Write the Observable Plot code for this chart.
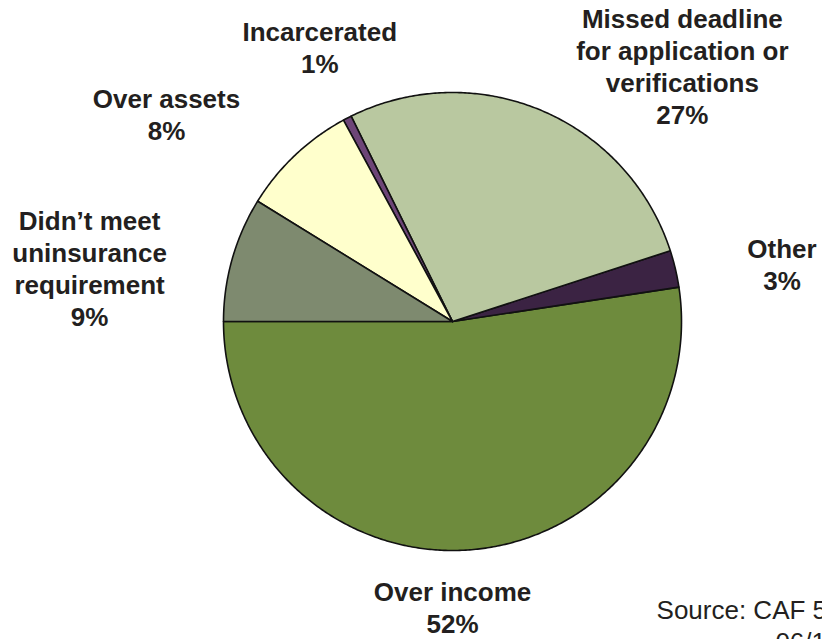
<!DOCTYPE html>
<html><head><meta charset="utf-8">
<script src="https://cdn.jsdelivr.net/npm/d3@7"></script>
<script src="https://cdn.jsdelivr.net/npm/@observablehq/plot@0.6"></script>
<style>html,body{margin:0;padding:0;overflow:hidden;background:#fff}</style>
</head><body><div id="chart"></div>
<script>
// ---- data ----
const categories = [
  "Over income",
  "Other",
  "Missed deadline\nfor application or\nverifications",
  "Incarcerated",
  "Over assets",
  "Didn’t meet\nuninsurance\nrequirement"
];
const shares = [52.4, 2.6, 27.3, 0.6, 8.3, 8.8];
const colors = ["#6e8b3d", "#3b2343", "#b9c8a0", "#6d4577", "#ffffcc", "#7e8a6f"];
const sourceLines = ["Source: CAF 51", "06/10"];

// ---- layout (label placement, polar around pie centre; radius 1 = pie edge) ----
const labelAngle = [270, 10, 48.1, 115.8, 144, 171.6];
const labelRadius = [1.247, 1.461, 1.503, 1.332, 1.544, 1.602];
const sourceX = [0.891, 1.41];
const sourceY = [-1.262, -1.402];

const rad = Math.PI / 180;
const total = d3.sum(shares);
let cum = 0;
const slices = categories.map((c, i) => {
  const a0 = 180 + (cum / total) * 360;
  cum += shares[i];
  const a1 = 180 + (cum / total) * 360;
  return {cat: c, share: shares[i], color: colors[i], a0, a1};
});
const outline = slices.flatMap((s) => {
  const n = Math.max(2, Math.ceil((s.a1 - s.a0) / 0.5));
  const pts = [{cat: s.cat, color: s.color, x: 0, y: 0}];
  for (let k = 0; k <= n; k++) {
    const a = (s.a0 + ((s.a1 - s.a0) * k) / n) * rad;
    pts.push({cat: s.cat, color: s.color, x: Math.cos(a), y: Math.sin(a)});
  }
  pts.push({cat: s.cat, color: s.color, x: 0, y: 0});
  return pts;
});
const labels = slices.map((s, i) => ({
  text: `${s.cat}\n${Math.round(s.share)}%`,
  x: labelRadius[i] * Math.cos(labelAngle[i] * rad),
  y: labelRadius[i] * Math.sin(labelAngle[i] * rad)
}));
const source = sourceLines.map((t, i) => ({text: t, x: sourceX[i], y: sourceY[i]}));

const chart = Plot.plot({
  width: 822,
  height: 639,
  marginLeft: 223,
  marginRight: 141,
  marginTop: 92,
  marginBottom: 89,
  x: {domain: [-1, 1], axis: null},
  y: {domain: [-1, 1], axis: null},
  style: {fontFamily: "'Liberation Sans', Arial, sans-serif", background: "#fff"},
  marks: [
    Plot.line(outline, {x: "x", y: "y", z: "cat", fill: "color", stroke: "#111", strokeWidth: 1.6, strokeLinejoin: "round"}),
    Plot.text(labels, {x: "x", y: "y", text: "text", fontSize: 26, fontWeight: "bold", lineHeight: 32 / 26, fill: "#231f20"}),
    Plot.text(source, {x: "x", y: "y", text: "text", fontSize: 26, textAnchor: "start", fill: "#231f20"})
  ]
});
document.getElementById("chart").appendChild(chart);
</script>
</body></html>
